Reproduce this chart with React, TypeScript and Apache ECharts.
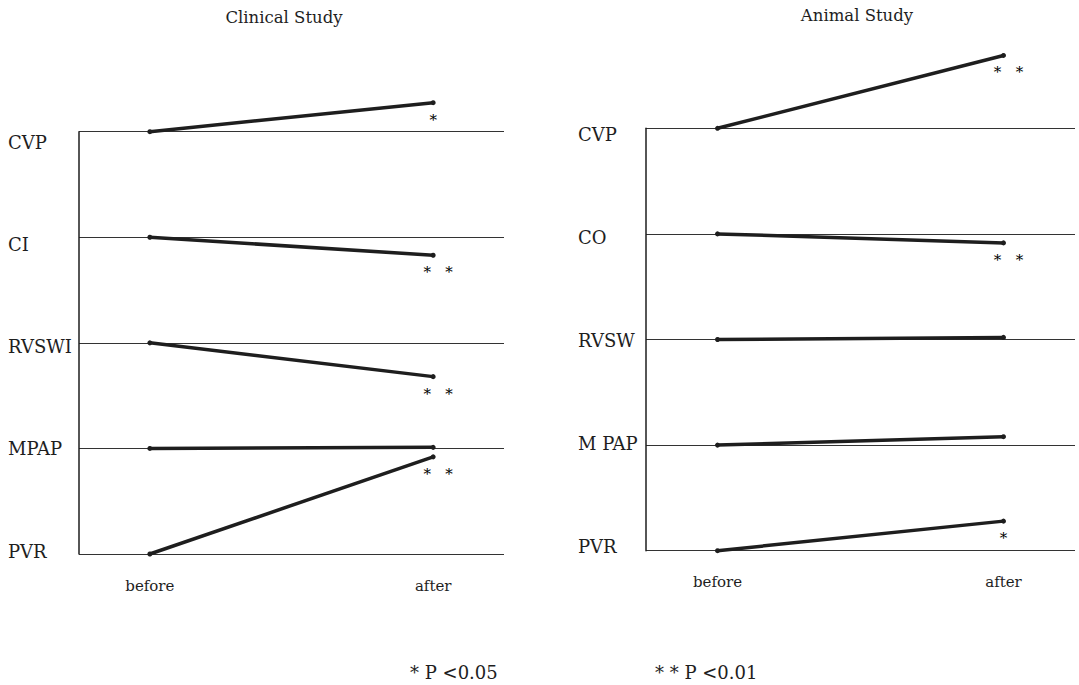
import React, { useEffect, useRef } from "react";
import * as echarts from "echarts";

// ---- data ----
const timepoints = ["before", "after"];
const panelTitles = ["Clinical Study", "Animal Study"];

const clinicalVars = ["CVP", "CI", "RVSWI", "MPAP", "PVR"];
// change after vs before, in units of the spacing between rows
const clinicalChange = [0.275, -0.17, -0.32, 0.01, 0.92];
const clinicalSig = ["*", "* *", "* *", "", "* *"];

const animalVars = ["CVP", "CO", "RVSW", "M PAP", "PVR"];
const animalChange = [0.69, -0.085, 0.02, 0.08, 0.28];
const animalSig = ["* *", "* *", "", "", "*"];

const footnotes = ["* P <0.05", "* * P <0.01"];

const INK = "#1e1e1e";
const SERIF = "'DejaVu Serif', serif";

function panelSeries(vars: string[], change: number[], sig: string[], panel: number) {
  return vars.map((name, i) => {
    const base = vars.length - 1 - i;
    const s = sig[i];
    return {
      type: "line",
      name: name,
      xAxisIndex: panel,
      yAxisIndex: panel * 2,
      clip: false,
      symbol: "circle",
      symbolSize: 5,
      showSymbol: true,
      lineStyle: { color: INK, width: 3.5 },
      itemStyle: { color: INK },
      emphasis: { disabled: true },
      data: [
        { value: [0, base] },
        {
          value: [1, base + change[i]],
          label: {
            show: s !== "",
            formatter: s.replace(/ /g, "\u00a0\u00a0\u00a0"),
            position: "bottom",
            distance: 7,
            offset: [s.length > 1 ? 5 : 0, 0],
            color: "#000000",
            textBorderWidth: 0,
            fontSize: 15,
            fontFamily: SERIF,
          },
        },
      ],
    };
  });
}

function lineAxis(gridIndex: number) {
  return {
    type: "value",
    gridIndex,
    min: 0,
    max: 4,
    interval: 1,
    axisLine: { show: true, onZero: false, lineStyle: { color: INK, width: 1.5 } },
    axisTick: { show: false },
    axisLabel: { show: false },
    splitLine: { show: true, showMinLine: true, showMaxLine: true, lineStyle: { color: "#333", width: 1 } },
  };
}

function labelAxis(gridIndex: number, names: string[], min: number, max: number, margin: number) {
  return {
    type: "value",
    gridIndex,
    position: "left",
    min,
    max,
    axisLine: { show: false, onZero: false },
    axisTick: { show: false },
    splitLine: { show: false },
    axisLabel: {
      show: true,
      customValues: [0, 1, 2, 3, 4],
      formatter: (v: number) => names[names.length - 1 - Math.round(v)],
      align: "left",
      margin,
      color: INK,
      fontSize: 18,
      fontFamily: SERIF,
    },
  };
}

function xAxis(gridIndex: number) {
  return {
    type: "value",
    gridIndex,
    min: -0.25,
    max: 1.25,
    axisLine: { show: false, onZero: false },
    axisTick: { show: false },
    splitLine: { show: false },
    axisLabel: {
      show: true,
      customValues: [0, 1],
      formatter: (v: number) => timepoints[Math.round(v)],
      margin: 24,
      color: INK,
      fontSize: 15,
      fontFamily: SERIF,
    },
  };
}

export default function App() {
  const ref = useRef<HTMLDivElement>(null);
  useEffect(() => {
    if (!ref.current) return;
    const chart = echarts.init(ref.current, undefined, { renderer: "svg" });
    chart.setOption({
      animation: false,
      backgroundColor: "#ffffff",
      title: [
        {
          text: panelTitles[0],
          left: 284,
          top: 9,
          textAlign: "center",
          padding: 0,
          textStyle: { color: INK, fontSize: 16.5, fontWeight: "normal", fontFamily: SERIF },
        },
        {
          text: panelTitles[1],
          left: 857,
          top: 7,
          textAlign: "center",
          padding: 0,
          textStyle: { color: INK, fontSize: 16.5, fontWeight: "normal", fontFamily: SERIF },
        },
      ],
      grid: [
        { left: 79, top: 131.7, width: 425, height: 422.3, containLabel: false },
        { left: 646, top: 128.3, width: 429, height: 422.4, containLabel: false },
      ],
      xAxis: [xAxis(0), xAxis(1)],
      yAxis: [
        lineAxis(0),
        labelAxis(0, clinicalVars, -0.0293, 4.101, 71),
        lineAxis(1),
        labelAxis(1, animalVars, -0.036, 4.065, 68),
      ],
      series: [
        ...panelSeries(clinicalVars, clinicalChange, clinicalSig, 0),
        ...panelSeries(animalVars, animalChange, animalSig, 1),
      ],
      graphic: [
        {
          type: "text",
          left: 410,
          top: 663,
          style: { text: footnotes[0], fill: INK, fontSize: 18, fontFamily: SERIF },
        },
        {
          type: "text",
          left: 655,
          top: 663,
          style: { text: footnotes[1], fill: INK, fontSize: 18, fontFamily: SERIF },
        },
      ],
    });
    return () => chart.dispose();
  }, []);
  return (
    <div
      ref={ref}
      style={{ position: "fixed", left: 0, top: 0, width: 1079, height: 685, background: "#fff" }}
    />
  );
}
